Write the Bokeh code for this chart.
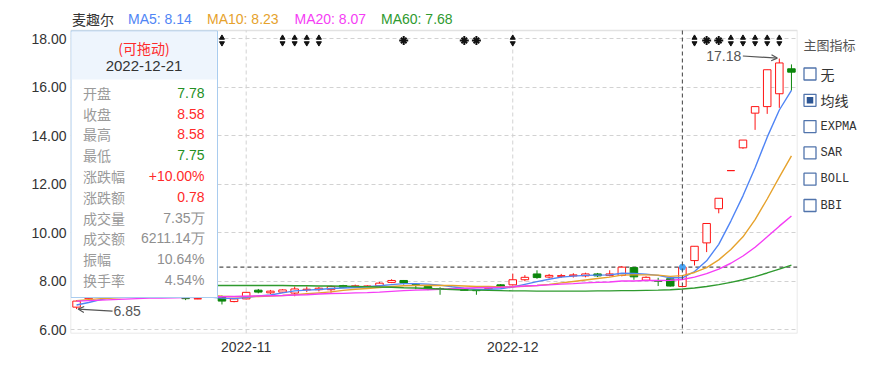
from bokeh.plotting import figure
from bokeh.models import Range1d, FixedTicker, Label, Arrow, OpenHead, ColumnDataSource
from bokeh.layouts import row
from bokeh.embed import file_html
from bokeh.resources import INLINE
from bokeh.core.properties import value

# ---------------- data ----------------
stock_name = "麦趣尔"
dates = [
    "2022-10-12", "2022-10-13", "2022-10-14", "2022-10-17", "2022-10-18", "2022-10-19", "2022-10-20",
    "2022-10-21", "2022-10-24", "2022-10-25", "2022-10-26", "2022-10-27", "2022-10-28", "2022-10-31",
    "2022-11-01", "2022-11-02", "2022-11-03", "2022-11-04", "2022-11-07", "2022-11-08", "2022-11-09",
    "2022-11-10", "2022-11-11", "2022-11-14", "2022-11-15", "2022-11-16", "2022-11-17", "2022-11-18",
    "2022-11-21", "2022-11-22", "2022-11-23", "2022-11-24", "2022-11-25", "2022-11-28", "2022-11-29",
    "2022-11-30", "2022-12-01", "2022-12-02", "2022-12-05", "2022-12-06", "2022-12-07", "2022-12-08",
    "2022-12-09", "2022-12-12", "2022-12-13", "2022-12-14", "2022-12-15", "2022-12-16", "2022-12-19",
    "2022-12-20", "2022-12-21", "2022-12-22", "2022-12-23", "2022-12-26", "2022-12-27", "2022-12-28",
    "2022-12-29", "2022-12-30", "2023-01-03", "2023-01-04",
]
opens = [6.93, 7.28, 7.45, 7.50, 7.46, 7.52, 7.48, 7.45, 7.42, 7.30,
         7.27, 7.34, 7.37, 7.16, 7.27, 7.63, 7.52, 7.55, 7.51, 7.64,
         7.65, 7.65, 7.82, 7.75, 7.79, 7.81, 7.95, 8.03, 7.86, 7.78,
         7.70, 7.68, 7.69, 7.63, 7.69, 7.85, 7.85, 8.06, 8.30, 8.17,
         8.20, 8.22, 8.22, 8.30, 8.24, 8.24, 8.56, 8.04, 8.02, 8.10,
         7.78, 8.85, 9.58, 10.99, 12.56, 13.50, 14.93, 15.20, 15.73, 16.76]
highs = [7.22, 7.50, 7.56, 7.55, 7.58, 7.55, 7.52, 7.48, 7.44, 7.36,
         7.30, 7.45, 7.41, 7.29, 7.56, 7.68, 7.64, 7.67, 7.78, 7.78,
         7.76, 7.82, 7.85, 7.86, 7.83, 7.97, 8.08, 8.05, 7.89, 7.83,
         7.75, 7.72, 7.71, 7.66, 7.80, 7.88, 8.31, 8.25, 8.45, 8.30,
         8.30, 8.33, 8.35, 8.34, 8.45, 8.62, 8.58, 8.20, 8.14, 8.12,
         8.58, 9.44, 10.38, 11.42, 12.56, 13.82, 15.20, 16.72, 17.18, 16.94]
lows = [6.85, 7.27, 7.40, 7.42, 7.43, 7.44, 7.40, 7.38, 7.34, 7.22,
        7.26, 7.34, 7.04, 7.13, 7.25, 7.50, 7.47, 7.52, 7.38, 7.55,
        7.58, 7.52, 7.72, 7.72, 7.77, 7.77, 7.92, 7.86, 7.67, 7.63,
        7.44, 7.66, 7.60, 7.44, 7.66, 7.74, 7.82, 8.00, 8.10, 8.12,
        8.14, 8.15, 8.16, 8.17, 8.20, 8.20, 8.06, 8.02, 7.80, 7.78,
        7.75, 8.65, 9.20, 10.80, 12.56, 13.46, 14.24, 14.90, 15.15, 15.86]
closes = [7.18, 7.45, 7.50, 7.46, 7.52, 7.48, 7.45, 7.42, 7.36, 7.28,
          7.28, 7.40, 7.18, 7.27, 7.54, 7.55, 7.59, 7.64, 7.68, 7.67,
          7.71, 7.78, 7.75, 7.81, 7.80, 7.92, 8.03, 7.93, 7.84, 7.70,
          7.68, 7.69, 7.62, 7.61, 7.75, 7.77, 8.06, 8.16, 8.15, 8.24,
          8.23, 8.26, 8.30, 8.22, 8.30, 8.58, 8.18, 8.16, 8.00, 7.80,
          8.58, 9.44, 10.38, 11.42, 12.56, 13.82, 15.20, 16.72, 17.00, 16.62]
ma5 = [7.02, 7.12, 7.24, 7.34, 7.42, 7.48, 7.48, 7.47, 7.45, 7.40,
       7.36, 7.35, 7.30, 7.28, 7.33, 7.39, 7.43, 7.52, 7.60, 7.63,
       7.66, 7.70, 7.72, 7.74, 7.77, 7.81, 7.86, 7.90, 7.90, 7.88,
       7.84, 7.77, 7.71, 7.66, 7.67, 7.69, 7.76, 7.87, 7.98, 8.08,
       8.17, 8.21, 8.24, 8.25, 8.26, 8.33, 8.32, 8.29, 8.24, 8.14,
       8.14, 8.40, 8.84, 9.52, 10.48, 11.52, 12.68, 13.94, 15.06, 15.87]
ma10 = [7.20, 7.24, 7.28, 7.31, 7.34, 7.36, 7.38, 7.39, 7.40, 7.41,
        7.42, 7.42, 7.38, 7.36, 7.37, 7.37, 7.39, 7.41, 7.44, 7.48,
        7.52, 7.56, 7.62, 7.67, 7.70, 7.74, 7.78, 7.81, 7.82, 7.83,
        7.82, 7.82, 7.80, 7.78, 7.78, 7.76, 7.77, 7.79, 7.82, 7.87,
        7.93, 7.99, 8.05, 8.11, 8.17, 8.25, 8.26, 8.26, 8.25, 8.20,
        8.23, 8.36, 8.56, 8.88, 9.31, 9.83, 10.54, 11.39, 12.29, 13.17]
ma20 = [7.18, 7.20, 7.22, 7.24, 7.26, 7.28, 7.30, 7.31, 7.32, 7.33,
        7.34, 7.35, 7.36, 7.37, 7.38, 7.39, 7.40, 7.41, 7.43, 7.44,
        7.47, 7.49, 7.50, 7.52, 7.53, 7.55, 7.58, 7.61, 7.63, 7.65,
        7.67, 7.69, 7.71, 7.73, 7.74, 7.75, 7.77, 7.80, 7.82, 7.85,
        7.88, 7.90, 7.93, 7.95, 7.97, 8.01, 8.01, 8.03, 8.03, 8.04,
        8.07, 8.17, 8.31, 8.50, 8.74, 9.04, 9.40, 9.83, 10.27, 10.69]
ma60 = [7.84, 7.84, 7.84, 7.84, 7.83, 7.83, 7.83, 7.83, 7.83, 7.83,
        7.82, 7.82, 7.82, 7.82, 7.82, 7.82, 7.82, 7.82, 7.81, 7.81,
        7.80, 7.80, 7.79, 7.78, 7.77, 7.76, 7.75, 7.73, 7.72, 7.70,
        7.68, 7.66, 7.64, 7.63, 7.62, 7.61, 7.60, 7.60, 7.59, 7.59,
        7.59, 7.59, 7.59, 7.60, 7.60, 7.61, 7.61, 7.62, 7.63, 7.65,
        7.68, 7.72, 7.78, 7.86, 7.95, 8.06, 8.19, 8.34, 8.50, 8.66]

x_tick_idx = [14, 36]
x_tick_labels = ["2022-11", "2022-12"]
y_ticks = [6, 8, 10, 12, 14, 16, 18]

event_arrow_idx = [12, 17, 18, 19, 20, 36, 51, 54, 55, 56, 57, 58]
event_star_idx = [27, 32, 33, 52, 53]

hover_idx = 50
hover_volume = "7.35万"
hover_amount = "6211.14万"
hover_turnover = "4.54%"

indicator_options = ["无", "均线", "EXPMA", "SAR", "BOLL", "BBI"]
indicator_checked = "均线"

# ---------------- styles / layout ----------------
RED = "#ff1414"
GREEN = "#0b860b"
TXT_RED = "#ff2a2a"
TXT_GREEN = "#248f24"
NEUTRAL = "#8f8f8f"
MA_COLORS = ["#5085f5", "#e6a22c", "#f53df5", "#2f9a2f"]
CJK = "Noto Sans CJK SC"
LAT = "Liberation Sans"
GRID = "#d2d2d2"

FIG_W, FIG_H = 798, 364
BL, BR = 70, 1
FRAME_TOP, FRAME_BOTTOM = 2, 333      # frame (page px) incl. header strip
BOX_TOP = 30                          # visible price box top (page px)
BT, BB = FRAME_TOP, FIG_H - FRAME_BOTTOM
FRAME_W = FIG_W - BL - BR
PX_PER_UNIT = 24.25
X0, X1 = -0.5, len(dates) - 0.5
Y1 = 18 + (38.2 - FRAME_TOP) / PX_PER_UNIT
Y0 = 18 - (FRAME_BOTTOM - 38.2) / PX_PER_UNIT
SX = FRAME_W / (X1 - X0)
SY = PX_PER_UNIT


def px2x(px):
    return X0 + (px - BL) / SX


def py2y(py):
    return Y1 - (py - FRAME_TOP) / SY


p = figure(width=FIG_W, height=FIG_H, x_range=Range1d(X0, X1), y_range=Range1d(Y0, Y1),
           output_backend="svg", toolbar_location=None,
           min_border_left=BL, min_border_right=BR, min_border_top=BT, min_border_bottom=BB)
p.background_fill_color = "white"
p.border_fill_color = "white"
p.outline_line_color = None

p.xaxis.ticker = FixedTicker(ticks=x_tick_idx)
p.xaxis.major_label_overrides = {i: s for i, s in zip(x_tick_idx, x_tick_labels)}
p.yaxis.ticker = FixedTicker(ticks=y_ticks)
p.yaxis.major_label_overrides = {t: f"{t:.2f}" for t in y_ticks}
for ax in (p.xaxis[0], p.yaxis[0]):
    ax.axis_line_color = None
    ax.major_tick_line_color = None
    ax.minor_tick_line_color = None
    ax.major_tick_out = 0
    ax.major_tick_in = 0
    ax.major_label_text_font = LAT
    ax.major_label_text_font_size = "14px"
    ax.major_label_text_color = "#333333"
p.yaxis.major_label_standoff = 4
p.xaxis.major_label_standoff = 8
p.ygrid.grid_line_color = GRID
p.ygrid.grid_line_dash = "4 3"
p.xgrid.visible = False

box_top = py2y(BOX_TOP)
# price-box outline and vertical grid lines (limited to the price box)
p.quad(left=[X0], right=[X1], top=[box_top], bottom=[Y0], fill_color=None, line_color="#e2e2e2",
       line_width=1.5)
p.segment(x0=x_tick_idx, y0=[Y0] * len(x_tick_idx), x1=x_tick_idx, y1=[box_top] * len(x_tick_idx),
          line_color=GRID, line_dash="4 3", line_width=1)

idx = list(range(len(dates)))

# crosshair (horizontal)
hc = closes[hover_idx]
p.segment(x0=[X0 - 1], y0=[hc], x1=[X1 + 1], y1=[hc], line_color="#505050", line_dash="4 3", line_width=1.1)

# candles
up = [c >= o for o, c in zip(opens, closes)]
src = ColumnDataSource(dict(
    x=idx, h=highs, l=lows,
    top=[max(o, c) for o, c in zip(opens, closes)],
    bottom=[min(o, c) for o, c in zip(opens, closes)],
    color=[RED if u else GREEN for u in up],
    fill=["white" if u else GREEN for u in up],
))
p.segment(x0="x", y0="h", x1="x", y1="l", line_color="color", line_width=1, source=src)
p.vbar(x="x", width=0.62, top="top", bottom="bottom", fill_color="fill", line_color="color",
       line_width=1, source=src)

# moving averages
for series, colr in zip([ma5, ma10, ma20, ma60], MA_COLORS):
    p.line(idx, series, line_color=colr, line_width=1.4)

# event markers at top
y_ev = py2y(40)
p.scatter(event_arrow_idx, [py2y(37.3)] * len(event_arrow_idx), marker="triangle", size=5,
          fill_color="#111111", line_color="#111111")
p.scatter(event_arrow_idx, [py2y(42.7)] * len(event_arrow_idx), marker="inverted_triangle", size=5,
          fill_color="#111111", line_color="#111111")
p.scatter(event_star_idx, [y_ev] * len(event_star_idx), marker="cross", size=9, line_color="#111111",
          line_width=2)
p.scatter(event_star_idx, [y_ev] * len(event_star_idx), marker="x", size=8, line_color="#111111",
          line_width=2)

# hovered point marker
p.scatter([hover_idx], [hc], marker="circle", size=6, fill_color="#47a3f5", line_color="#47a3f5")

# tooltip box
tl, tr, tt, tb = px2x(70.5), px2x(217), py2y(30.5), py2y(297)
p.quad(left=[tl], right=[tr], top=[tt], bottom=[tb], fill_color="white", line_color="#a9ccef", line_width=1)
p.quad(left=[px2x(71.2)], right=[px2x(216.3)], top=[py2y(31.2)], bottom=[py2y(79)],
       fill_color="#eef5fd", line_color=None)
cx = px2x(143.5)
p.text(x=[cx], y=[py2y(47.5)], text=["(可拖动)"], text_font=value(CJK), text_font_size="14px",
       text_color=TXT_RED, text_align="center", text_baseline="middle")
p.text(x=[cx], y=[py2y(65)], text=[dates[hover_idx]], text_font=value(LAT), text_font_size="15px",
       text_color="#333333", text_align="center", text_baseline="middle")

o, h, l, c = opens[hover_idx], highs[hover_idx], lows[hover_idx], closes[hover_idx]
pc = closes[hover_idx - 1]


def col(v):
    return TXT_RED if v > pc + 1e-9 else (TXT_GREEN if v < pc - 1e-9 else NEUTRAL)


chg = c - pc
rows = [
    ("开盘", f"{o:.2f}", col(o)),
    ("收盘", f"{c:.2f}", col(c)),
    ("最高", f"{h:.2f}", col(h)),
    ("最低", f"{l:.2f}", col(l)),
    ("涨跌幅", f"{chg / pc * 100:+.2f}%", col(c)),
    ("涨跌额", f"{chg:.2f}", col(c)),
    ("成交量", hover_volume, NEUTRAL),
    ("成交额", hover_amount, NEUTRAL),
    ("振幅", f"{(h - l) / pc * 100:.2f}%", NEUTRAL),
    ("换手率", hover_turnover, NEUTRAL),
]
row_y = [py2y(92.3 + k * 20.8) for k in range(len(rows))]
p.text(x=[px2x(82.5)] * len(rows), y=row_y, text=[r[0] for r in rows], text_font=value(CJK),
       text_font_size="14px", text_color="#9a9a9a", text_align="left", text_baseline="middle")
p.text(x=[px2x(204)] * len(rows), y=row_y, text=[r[1] for r in rows], text_font=value(LAT),
       text_font_size="14px", text_color=[r[2] for r in rows], text_align="right",
       text_baseline="middle")

# header line (inside the top strip of the frame)
hy = py2y(18)
head = [
    (stock_name, 71.5, "#333333", CJK),
    (f"MA5: {ma5[hover_idx]:.2f}", 127.5, MA_COLORS[0], LAT),
    (f"MA10: {ma10[hover_idx]:.2f}", 206.5, MA_COLORS[1], LAT),
    (f"MA20: {ma20[hover_idx]:.2f}", 294, MA_COLORS[2], LAT),
    (f"MA60: {ma60[hover_idx]:.2f}", 380.5, MA_COLORS[3], LAT),
]
for txt, hx, colr, fnt in head:
    p.text(x=[px2x(hx)], y=[hy], text=[txt], text_font=value(fnt), text_font_size="14px",
           text_color=colr, text_baseline="middle", text_align="left")

# vertical crosshair (extends through the axis area)
p.add_layout(Arrow(end=None, x_start=hover_idx, y_start=py2y(BOX_TOP), x_end=hover_idx,
                   y_end=py2y(FIG_H), line_color="#505050", line_dash="4 3", line_width=1.1))

# min / max annotations
i_lo = lows.index(min(lows))
i_hi = highs.index(max(highs))
lo, hi = lows[i_lo], highs[i_hi]
p.add_layout(Label(x=i_lo + 37 / SX, y=lo - 2 / SY, text=f"{lo:.2f}", text_font=LAT,
                   text_font_size="14px", text_color="#555555", text_baseline="middle", text_align="left"))
p.add_layout(Arrow(end=OpenHead(size=6, line_color="#555555", line_width=1.2),
                   x_start=i_lo + 36 / SX, y_start=lo - 2.1 / SY, x_end=i_lo + 1.5 / SX, y_end=lo,
                   line_color="#555555", line_width=1.2))
p.add_layout(Label(x=i_hi - 38 / SX, y=hi + 3 / SY, text=f"{hi:.2f}", text_font=LAT,
                   text_font_size="14px", text_color="#555555", text_baseline="middle", text_align="right"))
p.add_layout(Arrow(end=OpenHead(size=6, line_color="#555555", line_width=1.2),
                   x_start=i_hi - 36.5 / SX, y_start=hi + 2.6 / SY, x_end=i_hi - 2 / SX, y_end=hi + 0.5 / SY,
                   line_color="#555555", line_width=1.2))

# ---------------- right panel (page-pixel coordinates) ----------------
PW = 88
p2 = figure(width=PW, height=FIG_H, x_range=Range1d(FIG_W, FIG_W + PW),
            y_range=Range1d(FRAME_BOTTOM, FRAME_TOP),
            output_backend="svg", toolbar_location=None, x_axis_location=None, y_axis_location=None,
            min_border_left=0, min_border_right=0, min_border_top=BT, min_border_bottom=BB)
p2.grid.visible = False
p2.outline_line_color = None
p2.background_fill_color = "white"
p2.border_fill_color = "white"
p2.text(x=[803], y=[44], text=["主图指标"], text_font=value(CJK), text_font_size="13px",
        text_color="#555555", text_baseline="middle", text_align="left")
opt_y = [73.5 + k * 26.3 for k in range(len(indicator_options))]
p2.rect(x=[809.5] * len(opt_y), y=opt_y, width=12, height=12, fill_color="white",
        line_color="#5174ac", line_width=1.3)
ck = indicator_options.index(indicator_checked)
p2.rect(x=[809.5], y=[opt_y[ck]], width=6.5, height=6.5, fill_color="#2c5593", line_color=None)
cjk_i = [k for k, s in enumerate(indicator_options) if not s.isascii()]
lat_i = [k for k, s in enumerate(indicator_options) if s.isascii()]
p2.text(x=[820] * len(cjk_i), y=[opt_y[k] for k in cjk_i], text=[indicator_options[k] for k in cjk_i],
        text_font=value(CJK), text_font_size="14px", text_color="#333333", text_baseline="middle")
p2.text(x=[820] * len(lat_i), y=[opt_y[k] for k in lat_i], text=[indicator_options[k] for k in lat_i],
        text_font=value("Liberation Mono"), text_font_size="12px", text_color="#333333",
        text_baseline="middle")

layout = row(p, p2)
open("out.html", "w", encoding="utf-8").write(file_html(layout, INLINE))
